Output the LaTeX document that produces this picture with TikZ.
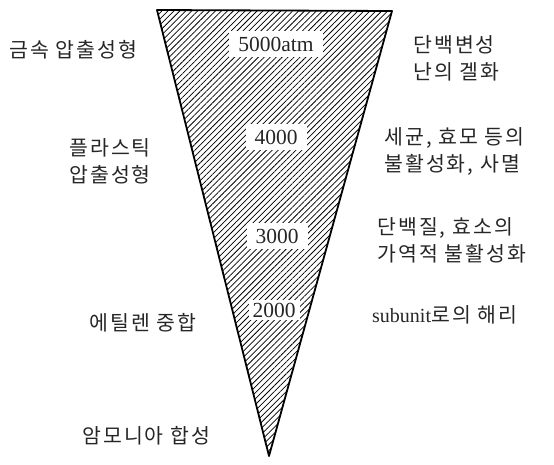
\documentclass[tikz,border=0pt]{standalone}
\usepackage{fontspec}
\newfontfamily\kr[LetterSpace=10]{Noto Sans CJK KR}
\setmainfont{Liberation Serif}
\usetikzlibrary{patterns.meta}
\tikzset{
  krlabel/.style={font=\kr\fontsize{20.5}{27}\selectfont, inner sep=0pt, align=left, text=black!85},
  numlabel/.style={font=\fontsize{21.5}{24}\selectfont, fill=white, inner xsep=9pt, inner ysep=6pt, text=black!85},
  wedge/.style={draw=black, line width=1.8pt, line join=round,
    pattern={Lines[angle=45,distance=4.2pt,line width=0.75pt]}}
}
\begin{document}
\begin{tikzpicture}[x=1pt,y=-1pt]
\useasboundingbox (0,0) rectangle (554,464);
\coordinate (tl) at (157,10);
\coordinate (tr) at (392,11);
\coordinate (ap) at (269,456);
\draw[wedge] (tl) -- (tr) -- (ap) -- cycle;
% pressure values
\node[numlabel] (p5) at (276,44) {5000atm};
\node[numlabel] (p4) at (276,137) {4000};
\node[numlabel] (p3) at (277,236) {3000};
\node[numlabel, inner xsep=4pt, inner ysep=3pt] (p2) at (274,310) {2000};
% left labels
\node[krlabel, anchor=west] (l1) at (9,50) {금속 압출성형};
\node[krlabel, anchor=west] (l2) at (69,161) {플라스틱\\압출성형};
\node[krlabel, anchor=west] (l3) at (89,323) {에틸렌 중합};
\node[krlabel, anchor=west] (l4) at (82,436) {암모니아 합성};
% right labels
\node[krlabel, anchor=west] (r1) at (413,58) {단백변성\\난의 겔화};
\node[krlabel, anchor=west] (r2) at (384,151) {세균, 효모 등의\\불활성화, 사멸};
\node[krlabel, anchor=west] (r3) at (377,240) {단백질, 효소의\\가역적 불활성화};
\node[krlabel, anchor=west] (r4) at (372,315) {{\rmfamily\fontsize{20}{22}\selectfont subunit}로의 해리};
\end{tikzpicture}
\end{document}
